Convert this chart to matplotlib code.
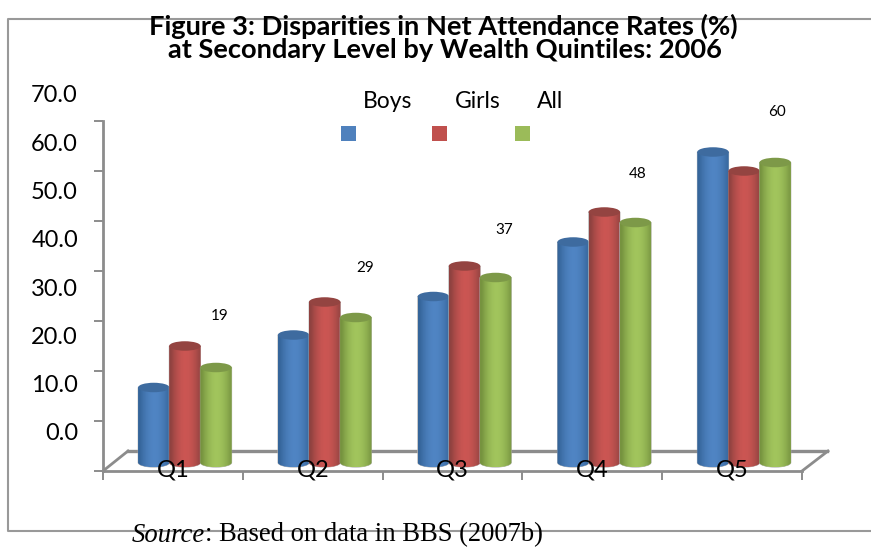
import numpy as np
import matplotlib
matplotlib.use("Agg")
import matplotlib.pyplot as plt
from matplotlib.patches import Ellipse, PathPatch, Rectangle
from matplotlib.path import Path
from matplotlib.transforms import Affine2D
from matplotlib.colors import LinearSegmentedColormap

quintiles = ["Q1", "Q2", "Q3", "Q4", "Q5"]
boys = [15.0, 25.5, 33.2, 44.1, 62.1]
girls = [23.3, 32.1, 39.3, 50.1, 58.3]
all_children = [19, 29, 37, 48, 60]
series_names = ["Boys", "Girls", "All"]
yticks = [0, 10, 20, 30, 40, 50, 60, 70]

W, H = 871, 547
SANS = "Lato"
GREY = "#8c8c8c"

# edge, highlight colours of each cylinder, then its top face and legend box
styles = [("#35659a", "#5085c4", "#3e6b9f", "#4f81bd"),
          ("#8f4240", "#cc5653", "#944441", "#c0504d"),
          ("#76933f", "#a2c55d", "#7d9948", "#9bbb59")]

fig = plt.figure(figsize=(W / 100, H / 100), dpi=100, facecolor="white")


def px_box(x0, y0, x1, y1):
    return [x0 / W, 1 - y1 / H, (x1 - x0) / W, (y1 - y0) / H]


def fx(x):
    return x / W


def fy(y):
    return 1 - y / H


ax = fig.add_axes(px_box(103, 121, 802, 471))
ax.set_xlim(0, 5)
ax.set_ylim(0, 70)
ax.patch.set_visible(False)
for name in ["top", "right"]:
    ax.spines[name].set_visible(False)
for name in ["left", "bottom"]:
    ax.spines[name].set_color(GREY)
    ax.spines[name].set_linewidth(2.0)
ax.set_xticks(range(6))
ax.set_xticklabels([])
ax.set_yticks(yticks)
ax.set_yticklabels([])
ax.tick_params(axis="x", length=6.5, width=1.4, color=GREY)
ax.tick_params(axis="y", length=6.5, width=1.4, color=GREY)

# floor of the 3d box, behind the bars
depth = Affine2D().translate(25, 20)
ax.plot([0, 5], [0, 0], color=GREY, lw=2.4, clip_on=False, zorder=1,
        transform=ax.transData + depth)
fig.add_artist(plt.Line2D([fx(103), fx(128)], [fy(471), fy(451)], color=GREY, lw=2))
fig.add_artist(plt.Line2D([fx(802), fx(828)], [fy(471), fy(451)], color=GREY, lw=2))

# bars stand half way into the depth of the box
shift = ax.transData + Affine2D().translate(12, 8.5)
bar_w = 31.5 / (699 / 5)
ell_h = 9.5 / 5.0
gradient = np.array([[0.0, 0.4, 0.7, 0.9, 1.0, 0.95, 0.8, 0.55, 0.2]])


def cylinder(x, value, st, z):
    x0, x1 = x - bar_w / 2, x + bar_w / 2
    k = 0.5523
    b, r = ell_h / 2, bar_w / 2
    verts = [(x0, value), (x1, value), (x1, 0),
             (x1, -k * b), (x + k * r, -b), (x, -b),
             (x - k * r, -b), (x0, -k * b), (x0, 0), (x0, value)]
    codes = [Path.MOVETO, Path.LINETO, Path.LINETO,
             Path.CURVE4, Path.CURVE4, Path.CURVE4,
             Path.CURVE4, Path.CURVE4, Path.CURVE4, Path.CLOSEPOLY]
    side = PathPatch(Path(verts, codes), transform=shift, fc="none", ec="#b0b0b0",
                     lw=0.5, zorder=z, clip_on=False)
    ax.add_patch(side)
    cmap = LinearSegmentedColormap.from_list("cyl", [st[0], st[1]])
    im = ax.imshow(gradient, cmap=cmap, aspect="auto", interpolation="bilinear",
                   extent=(x0, x1, -b, value), transform=shift, zorder=z + 0.1)
    im.set_clip_path(PathPatch(Path(verts, codes), transform=shift))
    ax.add_patch(Ellipse((x, value), bar_w, ell_h, fc=st[2], ec="none",
                         transform=shift, zorder=z + 0.2, clip_on=False))


for i in range(len(quintiles)):
    for j, values in enumerate([boys, girls, all_children]):
        cylinder(i + 0.5 + (j - 1) * 0.2225, values[i], styles[j], 3 + i + j * 0.3)

ax.set_xlim(0, 5)
ax.set_ylim(0, 70)

# category names sit on the front edge, over the bars
for i, q in enumerate(quintiles):
    ax.annotate(q, (i + 0.5, 0), xytext=(0, 1), textcoords="offset pixels",
                ha="center", va="center", fontsize=17, family=SANS, color="black",
                zorder=20, annotation_clip=False)

# value labels for all children, above the green bars
label_offsets = [(4, 51), (9, 50), (9, 48), (2, 49), (2, 50)]
for i, v in enumerate(all_children):
    ax.annotate(str(v), (i + 0.5 + 0.2225, v), xycoords=shift,
                xytext=label_offsets[i], textcoords="offset pixels",
                ha="center", va="center", fontsize=11, family=SANS, color="black",
                annotation_clip=False)

# y labels are placed a bit tighter than the tick marks
for k, v in enumerate(yticks):
    fig.text(fx(78), fy(434 - k * 48.3), "%.1f" % v, ha="right", va="center",
             fontsize=17, family=SANS, color="black")

# legend
for name, tx, bx, st in zip(series_names, [388, 478, 550], [348.5, 439.5, 522.5], styles):
    fig.text(fx(tx), fy(102), name, ha="center", va="center", fontsize=16.5,
             family=SANS, color="black")
    fig.add_artist(Rectangle((fx(bx - 7.5), fy(141)), 15 / W, 15 / H, fc=st[3],
                             ec="none", transform=fig.transFigure))

# outer frame, open at the right edge of the page
frame = [(871, 531), (8, 531), (8, 19), (871, 19)]
fig.add_artist(plt.Line2D([fx(p[0]) for p in frame], [fy(p[1]) for p in frame],
                          color="#999999", lw=1.5))

fig.text(fx(443), fy(26), "Figure 3: Disparities in Net Attendance Rates (%)", ha="center",
         va="center", fontsize=19.6, fontweight="bold", family=SANS, color="black")
fig.text(fx(445), fy(50), "at Secondary Level by Wealth Quintiles: 2006", ha="center",
         va="center", fontsize=19.6, fontweight="bold", family=SANS, color="black")

src = fig.text(fx(132), fy(535), "Source", ha="left", va="center", fontsize=19.2,
               style="italic", family="Liberation Serif", color="black")
fig.canvas.draw()
bb = src.get_window_extent()
fig.text(bb.x1 / W, fy(535), ": Based on data in BBS (2007b)", ha="left", va="center",
         fontsize=19.2, family="Liberation Serif", color="black")

fig.savefig("out.png", dpi=100)
